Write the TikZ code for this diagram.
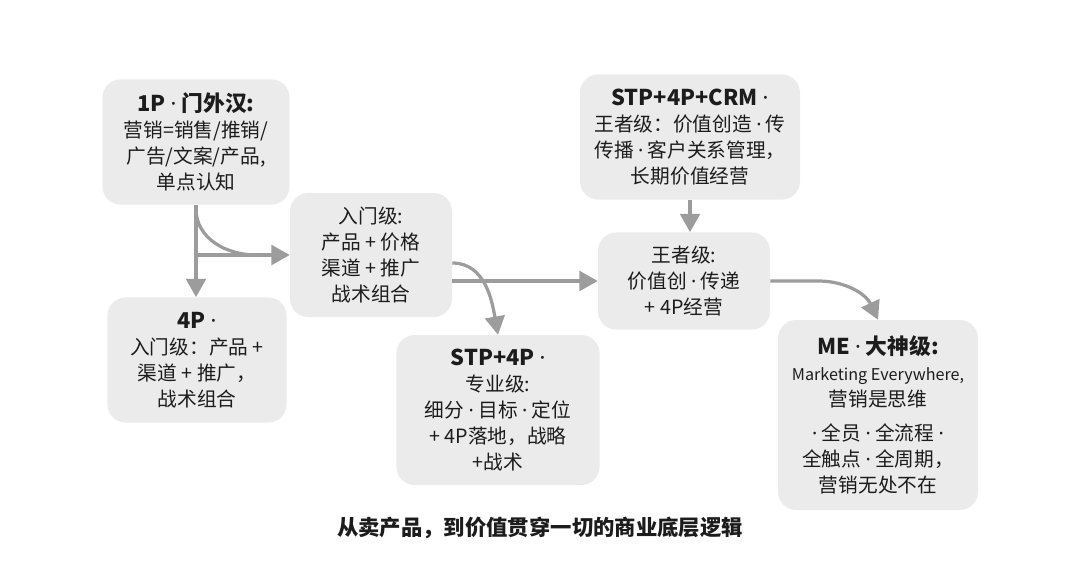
\documentclass[tikz,border=0pt]{standalone}
\usepackage{fontspec}
\setmainfont{Noto Sans CJK SC}
\newfontfamily\latinfont{Noto Sans}
\newcommand\dotsym{{\latinfont ·}}
\usepackage{tikz}
\usetikzlibrary{arrows.meta,positioning,calc}
\definecolor{boxgray}{HTML}{EBEBEB}
\definecolor{flowgray}{HTML}{9C9C9C}
\definecolor{ink}{HTML}{1C1C1C}

\begin{document}
\begin{tikzpicture}[
  stage/.style={fill=boxgray, rounded corners=13pt, align=center, inner sep=3pt,
    text=ink, font=\fontsize{14}{18.5}\selectfont},
  flow/.style={draw=flowgray, line width=2.3pt},
  flowarr/.style={flow, -{Triangle[length=13pt,width=14pt]}}]
  \useasboundingbox (0,0) rectangle (27,-14.15);

  \node[stage, minimum width=4.68cm, minimum height=3.13cm] (p1) at (4.9,-3.55)
    {{\bfseries\fontsize{15.5}{19}\selectfont 1P \dotsym{} 门外汉:}\\
     营销=销售/推销/\\广告/文案/产品,\\单点认知};
  \node[stage, minimum width=4.05cm, minimum height=3.1cm] (entry) at (9.275,-6.375)
    {入门级:\\产品 + 价格\\渠道 + 推广\\战术组合};
  \node[stage, minimum width=4.48cm, minimum height=3.13cm] (p4) at (4.925,-9.0)
    {{\bfseries\fontsize{15.5}{19}\selectfont 4P \dotsym}\\
     入门级：产品 +\\渠道 + 推广，\\战术组合};
  \node[stage, minimum width=5.08cm, minimum height=3.75cm] (stp) at (12.45,-10.25)
    {{\bfseries\fontsize{15.5}{19}\selectfont STP+4P \dotsym}\\
     专业级:\\细分 \dotsym{} 目标 \dotsym{} 定位\\+ 4P落地，战略\\+战术};
  \node[stage, minimum width=5.5cm, minimum height=3.13cm] (crm) at (17.25,-3.425)
    {{\bfseries\fontsize{15.5}{19}\selectfont STP+4P+CRM \dotsym}\\
     王者级：价值创造 \dotsym{} 传\\传播 \dotsym{} 客户关系管理，\\长期价值经营};
  \node[stage, minimum width=4.3cm, minimum height=2.43cm] (wang) at (17.1,-7.025)
    {王者级:\\价值创 \dotsym{} 传递\\+ 4P经营};
  \node[stage, minimum width=5.0cm, minimum height=4.75cm] (me) at (21.95,-10.375)
    {{\bfseries\fontsize{15.5}{19}\selectfont ME \dotsym{} 大神级:}\\
     {\fontsize{11.5}{14}\selectfont Marketing Everywhere,}\\
     营销是思维\\[6pt]
     \dotsym{} 全员 \dotsym{} 全流程 \dotsym\\全触点 \dotsym{} 全周期，\\营销无处不在};

  \node[text=ink, font=\bfseries\fontsize{15.2}{18}\selectfont] (cap) at (13.5,-13.2)
    {从卖产品，到价值贯穿一切的商业底层逻辑};

  \draw[flowarr] (p1.south) -- (p1.south |- p4.north);
  \draw[flow] ([yshift=-0.1cm]p1.south) to[out=-90,in=180]
    ($(p1.south |- entry.west)+(1.5,0)$);
  \draw[flowarr] (p1.south |- entry.west) -- (entry.west);
  \draw[flowarr] (entry.east |- wang.west) -- (wang.west);
  \draw[flowarr] ([yshift=-0.2cm]entry.east) to[out=0,in=100] (stp.north);
  \draw[flowarr] (crm.south) -- (crm.south |- wang.north);
  \draw[flowarr] (wang.east) -- ++(1.2,0) to[out=0,in=115] (me.north);
\end{tikzpicture}
\end{document}
